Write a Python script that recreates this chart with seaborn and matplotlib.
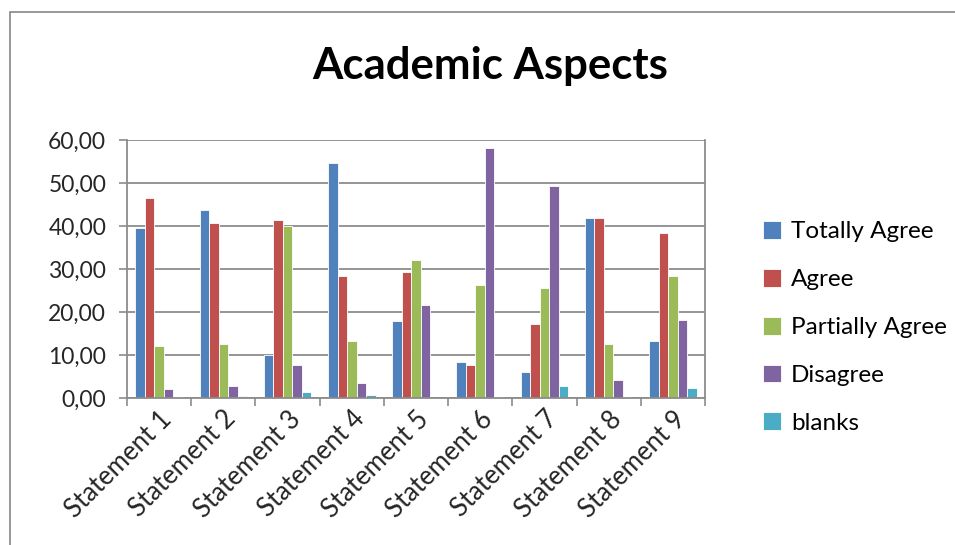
import matplotlib
matplotlib.use("Agg")
import matplotlib.pyplot as plt
import seaborn as sns
import pandas as pd
import numpy as np
from matplotlib.ticker import FuncFormatter, FixedLocator
from matplotlib.patches import Rectangle

categories = ["Statement 1", "Statement 2", "Statement 3", "Statement 4", "Statement 5",
              "Statement 6", "Statement 7", "Statement 8", "Statement 9"]
series = ["Totally Agree", "Agree", "Partially Agree", "Disagree", "blanks"]
totally_agree = [39.6, 43.8, 10.1, 54.7, 17.8, 8.4, 6.0, 41.8, 13.3]
agree = [46.6, 40.7, 41.3, 28.4, 29.2, 7.6, 17.1, 41.8, 38.3]
partially_agree = [12.2, 12.6, 39.9, 13.3, 32.0, 26.3, 25.6, 12.6, 28.4]
disagree = [2.1, 2.7, 7.6, 3.5, 21.7, 58.1, 49.3, 4.2, 18.2]
blanks = [0.2, 0.5, 1.4, 0.6, 0.1, 0.2, 2.7, 0.2, 2.3]
colors = ["#4F81BD", "#C0504D", "#9BBB59", "#8064A2", "#4BACC6"]
y_ticks = [0, 10, 20, 30, 40, 50, 60]

values = [totally_agree, agree, partially_agree, disagree, blanks]
rows = []
for s, vals in zip(series, values):
    for c, v in zip(categories, vals):
        rows.append({"Statement": c, "Response": s, "Value": v})
df = pd.DataFrame(rows)

sns.set_theme(style="white")
plt.rcParams["font.family"] = ["Lato", "DejaVu Sans"]

fig = plt.figure(figsize=(9.55, 5.45), dpi=100)
ax = fig.add_axes([127/955, 1 - 398/545, (705 - 127)/955, (398 - 140)/545])

sns.barplot(data=df, x="Statement", y="Value", hue="Response", order=categories,
            hue_order=series, palette=colors, width=0.74, ax=ax, legend=True,
            edgecolor="none", linewidth=0, saturation=1)

for p in ax.patches:
    p.set_edgecolor("#ffffff")
    p.set_linewidth(0.6)

ax.set_ylim(0, 60)
ax.set_xlim(-0.5, len(categories) - 0.5)
ax.yaxis.set_major_locator(FixedLocator(y_ticks))
ax.yaxis.set_major_formatter(FuncFormatter(lambda v, _: f"{v:.2f}".replace(".", ",")))
ax.grid(axis="y", color="#8c8c8c", linewidth=1.3)
ax.set_axisbelow(True)

for side in ["left", "bottom", "right"]:
    ax.spines[side].set_color("#8c8c8c")
    ax.spines[side].set_linewidth(1.3)
ax.spines["top"].set_visible(False)

ax.set_xlabel("")
ax.set_ylabel("")
ax.tick_params(axis="y", which="major", length=6, width=1.2, color="#8c8c8c",
               direction="out", labelsize=16.5, pad=9, left=True)
ax.set_xticks(range(len(categories)))
ax.set_xticklabels(categories, rotation=45, ha="right", rotation_mode="anchor", fontsize=18.5)
ax.tick_params(axis="x", which="major", length=0, pad=6)
ax.set_xticks(np.arange(-0.5, len(categories), 1.0), minor=True)
ax.tick_params(axis="x", which="minor", length=6, width=1.2, color="#8c8c8c",
               direction="out", bottom=True)

leg = ax.legend(loc="upper left", bbox_to_anchor=(763/955, 1 - 221/545),
                bbox_transform=fig.transFigure, frameon=False,
                fontsize=17.5, labelspacing=1.09, handlelength=0.75, handleheight=0.75,
                handletextpad=0.4, borderaxespad=0, borderpad=0)
for t in leg.get_texts():
    t.set_color("#000000")

fig.text(0.513, 1 - 66/545, "Academic Aspects", ha="center", va="center",
         fontsize=31.5, fontweight="bold", color="#000000")

fig.add_artist(Rectangle((10/955, -0.1), 1.2, 1 - 12/545 + 0.1, transform=fig.transFigure,
                         fill=False, edgecolor="#868686", linewidth=1.2))

fig.savefig("out.png", dpi=100)
